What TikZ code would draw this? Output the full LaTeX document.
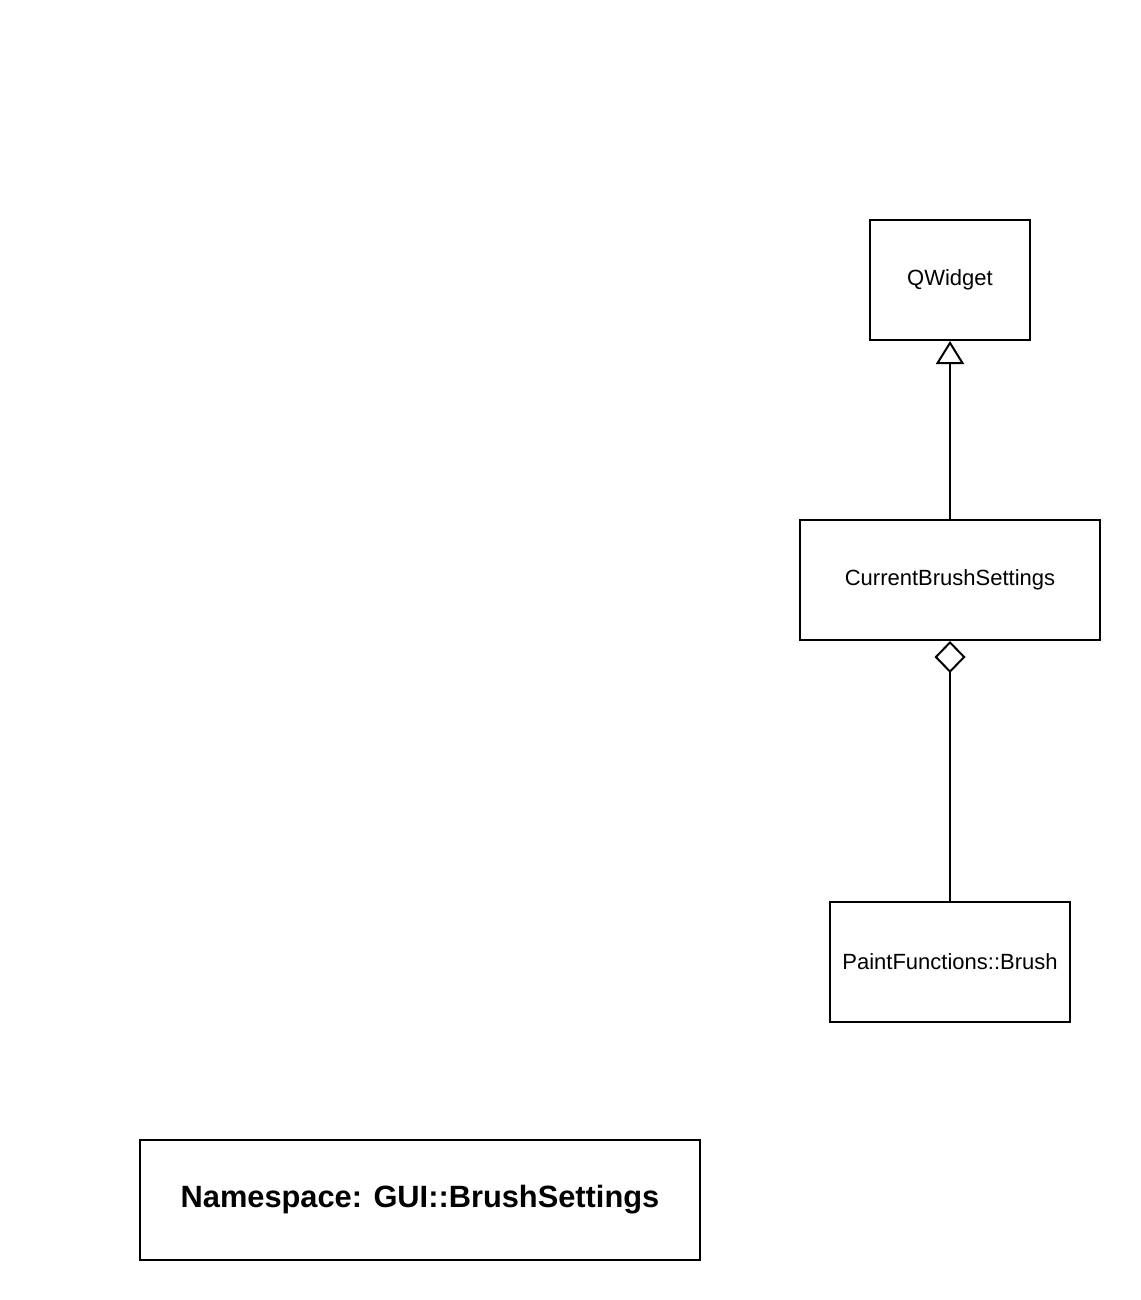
\documentclass[tikz,border=0pt]{standalone}
\usepackage{fontspec}
\setmainfont{Liberation Sans}
\usetikzlibrary{shapes,positioning,calc,arrows,arrows.meta}

\begin{document}
\begin{tikzpicture}[x=1pt, y=-1pt, line width=2pt,
        every node/.style={draw, rectangle, minimum height=120pt, inner sep=0pt,
            font=\fontsize{22}{26}\selectfont},
        inherit/.style={-{Triangle[open, length=23pt, width=28pt]}},
        aggregate/.style={{Diamond[open, length=32pt, width=31pt]}-} ]
    \useasboundingbox (0,0) rectangle (1140,1300);

    \node[minimum width=160pt] (qwidget) at (950,280) {QWidget};
    \node[minimum width=300pt] (settings) at (950,580) {CurrentBrushSettings};
    \node[minimum width=240pt] (brush) at (950,962) {PaintFunctions::Brush};

    \node[minimum width=560pt, font=\fontsize{30.8}{36}\selectfont\bfseries]
        (namespace) at (420,1200) {Namespace: GUI::BrushSettings};

    \draw[inherit] (settings) -- (qwidget);
    \draw[aggregate] (settings) -- (brush);

\end{tikzpicture}
\end{document}
